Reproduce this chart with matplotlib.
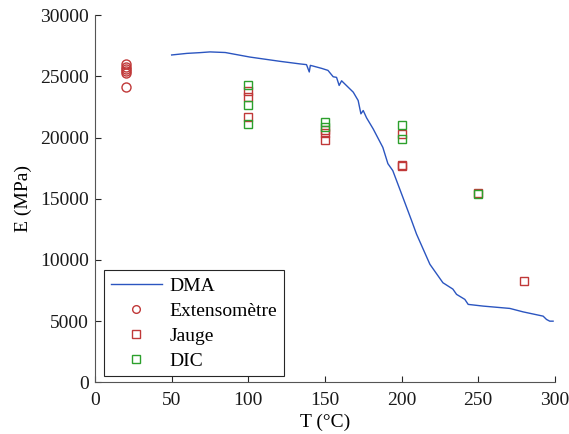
import matplotlib
matplotlib.use('Agg')
import matplotlib.pyplot as plt

# DMA curve
dma_T = [50, 60, 68.5, 75, 85, 101, 120.7, 133.7, 138, 139.8, 140.5, 142.4, 148, 152,
         155.4, 157.6, 159.3, 160.9, 164, 168.5, 171.7, 173.5, 175, 177.2, 181.5, 187.8,
         191.1, 194.3, 200.9, 206.5, 209.8, 218.5, 227, 233.5, 235.9, 241.3, 243.5, 253.3,
         270.7, 279.3, 292.4, 294.6, 296.7, 298.9]
dma_E = [26750, 26880, 26940, 27000, 26950, 26580, 26230, 26020, 25960, 25360, 25900, 25840,
         25650, 25490, 24970, 24920, 24260, 24640, 24260, 23710, 23030, 21940, 22210, 21610,
         20710, 19200, 17870, 17300, 15110, 13240, 12110, 9650, 8140, 7620, 7190, 6780, 6370,
         6230, 6040, 5760, 5410, 5140, 5000, 5000]

ext_T = [20, 20, 20, 20, 20, 20]
ext_E = [26000, 25800, 25600, 25400, 25300, 24100]

jauge_T = [100, 100, 100, 150, 150, 150, 200, 200, 200, 250, 280]
jauge_E = [23800, 23300, 21700, 20600, 20400, 19800, 20300, 17800, 17700, 15500, 8300]

dic_T = [100, 100, 100, 150, 150, 200, 200, 250]
dic_E = [24300, 22700, 21100, 21300, 20900, 21000, 19900, 15400]

plt.rcParams['font.family'] = ['Liberation Serif', 'DejaVu Serif']
plt.rcParams['font.size'] = 14

fig, ax = plt.subplots(figsize=(5.69, 4.34), dpi=100)
fig.subplots_adjust(left=0.167, right=0.975, bottom=0.119, top=0.965)

ax.plot(dma_T, dma_E, color='#2b55c0', lw=1.0, label='DMA')
ax.plot(ext_T, ext_E, 'o', mfc='none', mec='#c03838', ms=6.5, mew=1.0, label='Extensomètre')
ax.plot(jauge_T, jauge_E, 's', mfc='none', mec='#c03838', ms=6, mew=1.0, label='Jauge')
ax.plot(dic_T, dic_E, 's', mfc='none', mec='#2ca02c', ms=6, mew=1.0, label='DIC')

ax.set_xlim(0, 300)
ax.set_ylim(0, 30000)
ax.set_xticks(range(0, 301, 50))
ax.set_yticks(range(0, 30001, 5000))
ax.tick_params(direction='in', length=4, colors='#262626', labelcolor='#1a1a1a')
ax.tick_params(axis='x', pad=7)
ax.tick_params(axis='y', pad=4.5)
for s in ['top', 'right']:
    ax.spines[s].set_visible(False)
for s in ['left', 'bottom']:
    ax.spines[s].set_color('#555555')

ax.set_xlabel('T (°C)', labelpad=3)
ax.set_ylabel('E (MPa)', labelpad=6)

leg = ax.legend(loc='lower left', bbox_to_anchor=(0.02, 0.016), borderaxespad=0,
                fancybox=False, edgecolor='#262626', framealpha=1, handlelength=2.6,
                handletextpad=0.4, markerscale=0.85, labelspacing=0.38, borderpad=0.35)
leg.get_frame().set_linewidth(0.8)

fig.savefig('out.png', dpi=100)
